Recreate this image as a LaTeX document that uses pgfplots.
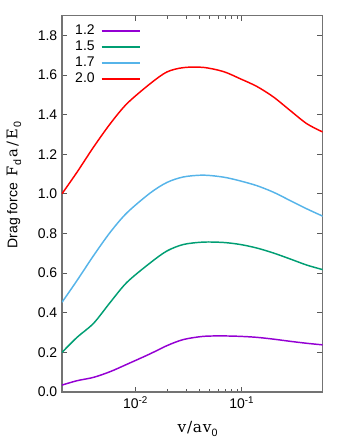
\documentclass[border=0pt]{standalone}
\usepackage{pgfplots}
\pgfplotsset{compat=1.18}
\usepackage{fontspec}
\setmainfont{Liberation Sans}
\newfontfamily\serif{DejaVu Serif}

\definecolor{c12}{HTML}{9400D3}
\definecolor{c15}{HTML}{009E73}
\definecolor{c17}{HTML}{56B4E9}
\definecolor{c20}{HTML}{FF0000}

\newcommand{\sub}[1]{\raisebox{-0.28em}{\fontsize{8}{9}\selectfont\rmfamily #1}}

\begin{document}
\begin{tikzpicture}
\begin{axis}[
  scale only axis,
  width=195.5pt, height=282.2pt,
  xmode=log,
  xmin=0.00203, xmax=0.577,
  ymin=0, ymax=1.9,
  xtick={0.01,0.1},
  xticklabels={10\textsuperscript{-2},10\textsuperscript{-1}},
  ytick={0,0.2,...,1.8},
  yticklabel style={/pgf/number format/.cd, fixed, fixed zerofill, precision=1},
  /pgf/number format/assume math mode=true,
  tick label style={font=\fontsize{10.5}{12}\selectfont},
  axis line style={draw=gray!90!black, line width=0.9pt},
  major tick style={draw=gray!70!black, line width=0.7pt},
  minor tick style={draw=gray!70!black, line width=0.6pt},
  tick align=inside,
  major tick length=4pt,
  minor tick length=2.5pt,
  xlabel={{\serif\fontsize{11.5}{14}\selectfont v\hspace{0.6pt}/\hspace{0.6pt}a\hspace{0.6pt}v}\sub{0}},
  xlabel style={at={(axis description cs:0.52,-0.098)}, anchor=center},
  ylabel={{\fontsize{10.5}{12}\selectfont Drag force}\hspace{4.5pt}{\serif\fontsize{11}{13}\selectfont F\hspace{0.8pt}}\sub{d}\hspace{2pt}{\serif\fontsize{11}{13}\selectfont a\hspace{1.5pt}/\hspace{1.5pt}E\hspace{0.8pt}}\sub{0}},
  ylabel style={at={(axis description cs:-0.184,0.55)}, anchor=center},
  legend plot pos=right,
  legend cell align=right,
  legend style={at={(axis description cs:0.037,0.985)}, anchor=north west,
    draw=none, fill=none, font=\fontsize{10.5}{12}\selectfont,
    row sep=0.2pt, column sep=3pt, inner sep=1pt, nodes={inner sep=1.5pt}},
  legend image code/.code={\draw[#1, line width=1.45pt, sharp plot] plot coordinates {(0pt,0pt) (14.5pt,0pt) (29pt,0pt)};},
]
\addplot[c12, line width=1.1pt, smooth] coordinates {
  (0.00203,0.035) (0.002812,0.057) (0.004027,0.074) (0.005781,0.103)
  (0.008299,0.140) (0.01374,0.193) (0.01972,0.234) (0.02825,0.265)
  (0.04355,0.281) (0.06714,0.283) (0.09638,0.281) (0.1384,0.276)
  (0.1982,0.267) (0.2844,0.256) (0.4083,0.246) (0.577,0.238)
};
\addlegendentry{1.2}
\addplot[c15, line width=1.1pt, smooth] coordinates {
  (0.00203,0.200) (0.002812,0.276) (0.004027,0.347) (0.005781,0.453)
  (0.008299,0.554) (0.01374,0.652) (0.01972,0.712) (0.02825,0.745)
  (0.04355,0.757) (0.06714,0.755) (0.09638,0.745) (0.1384,0.727)
  (0.1982,0.702) (0.2844,0.672) (0.4083,0.641) (0.577,0.618)
};
\addlegendentry{1.5}
\addplot[c17, line width=1.1pt, smooth] coordinates {
  (0.00203,0.453) (0.002812,0.563) (0.004027,0.689) (0.005781,0.807)
  (0.008299,0.905) (0.01374,1.005) (0.01972,1.058) (0.02825,1.086)
  (0.04355,1.095) (0.06714,1.085) (0.09638,1.066) (0.1384,1.042)
  (0.1982,1.009) (0.2844,0.967) (0.4083,0.925) (0.577,0.888)
};
\addlegendentry{1.7}
\addplot[c20, line width=1.1pt, smooth] coordinates {
  (0.00203,1.001) (0.002812,1.110) (0.004027,1.237) (0.005781,1.355)
  (0.008299,1.456) (0.01374,1.557) (0.01972,1.616) (0.02825,1.638)
  (0.04355,1.639) (0.06714,1.618) (0.09638,1.582) (0.1384,1.543)
  (0.1982,1.490) (0.2844,1.422) (0.4083,1.355) (0.577,1.313)
};
\addlegendentry{2.0}
\end{axis}
\pgfresetboundingbox
\path (current axis.south west) +(-46.5pt,-36.75pt) coordinate (bl);
\path (current axis.north east) +(19.7pt,11.8pt) coordinate (tr);
\useasboundingbox (bl) rectangle (tr);
\end{tikzpicture}
\end{document}
